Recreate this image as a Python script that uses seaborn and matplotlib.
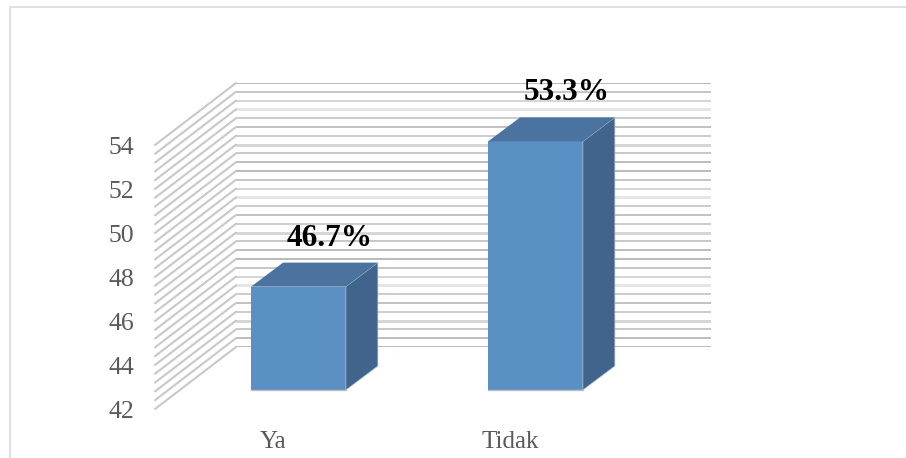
import numpy as np
import pandas as pd
import matplotlib
matplotlib.use('Agg')
import matplotlib.pyplot as plt
import seaborn as sns
from matplotlib.lines import Line2D
from matplotlib.patches import Polygon
from matplotlib.transforms import IdentityTransform

# Data
categories = ['Ya', 'Tidak']
values = [46.7, 53.3]
value_labels = ['46.7%', '53.3%']
y_ticks = [42, 44, 46, 48, 50, 52, 54]
grid_values = np.arange(42, 54.2, 0.4)

W, H = 906, 458
sns.set_theme(style='white')
plt.rcParams['font.family'] = ['Liberation Serif', 'DejaVu Serif']


def add_axes_px(left, top, right, bottom):
    # pixel box, y measured from the top of the image
    ax = fig.add_axes([left / W, 1 - bottom / H, (right - left) / W, (bottom - top) / H])
    ax.set_xlim(-0.5, 1.5)
    ax.set_ylim(42, 54)
    ax.patch.set_alpha(0)
    sns.despine(ax=ax, left=True, bottom=True)
    return ax


fig = plt.figure(figsize=(W / 100, H / 100), dpi=100, facecolor='white')

# Back wall, front plane (ticks) and the plane the bars stand on
ax_back = add_axes_px(236, 83, 711, 347)
ax = add_axes_px(155, 145, 629, 409)
ax_bar = add_axes_px(180, 126, 654, 390)
ax_back.set_xticks([])
ax_back.set_yticks([])

# Moire of the original gridlines: colour and width repeat unevenly
line_greys = ['#b4b4b4', '#c0c0c0', '#d2d2d2', '#e4e4e4', '#c8c8c8', '#bcbcbc', '#c8c8c8',
              '#d4d4d4', '#c4c4c4', '#b8b8b8']
for i, v in enumerate(grid_values[::-1]):
    grey = line_greys[i % len(line_greys)]
    lw = 2.0 if grey in ('#e4e4e4', '#d4d4d4') else 1.3
    ax_back.axhline(v, color=grey, lw=lw, zorder=1)
    p0 = ax.transData.transform((-0.5, v))
    p1 = ax_back.transData.transform((-0.5, v))
    fig.add_artist(Line2D([p0[0], p1[0]], [p0[1], p1[1]], transform=IdentityTransform(),
                          color='#c8c8c8', lw=1.5, zorder=1))

# Tick labels live on the front plane
ax.set_yticks(y_ticks)
ax.set_xticks([0, 1])
ax.set_xticklabels(categories)
ax.tick_params(axis='y', length=0, pad=15, labelsize=18.5, labelcolor='#595959')
ax.tick_params(axis='x', length=0, pad=16, labelsize=18, labelcolor='#595959')

# Bars: seaborn draws the front faces, depth faces are added from them
df = pd.DataFrame({'category': categories, 'value': values})
sns.barplot(data=df, x='category', y='value', ax=ax_bar, color='#5b90c4', saturation=1,
            width=0.4, edgecolor='none', zorder=3)
ax_bar.set_xlim(-0.5, 1.5)
ax_bar.set_ylim(42, 54)
ax_bar.set_xlabel('')
ax_bar.set_ylabel('')
ax_bar.set_xticks([])
ax_bar.set_yticks([])

dx, dy = 32, 24
for bar, label in zip(ax_bar.patches, value_labels):
    x0, x1 = bar.get_x(), bar.get_x() + bar.get_width()
    top = bar.get_height()
    bl, br = ax_bar.transData.transform([(x0, 42), (x1, 42)])
    tl, tr = ax_bar.transData.transform([(x0, top), (x1, top)])
    d = np.array([dx, dy])
    fig.add_artist(Polygon([br, tr, tr + d, br + d], closed=True, transform=IdentityTransform(),
                           facecolor='#40648c', edgecolor='#b9c6d3', lw=0.5, zorder=4))
    fig.add_artist(Polygon([tl, tr, tr + d, tl + d], closed=True, transform=IdentityTransform(),
                           facecolor='#4b73a0', edgecolor='none', zorder=4))
    # bottom edge of the front face
    fig.add_artist(Line2D([bl[0], br[0]], [bl[1], br[1]], transform=IdentityTransform(),
                          color='#b9c0c8', lw=1, zorder=5))
    mid = (x0 + x1) / 2
    ax_bar.annotate(label, (mid, top), xytext=(31, 34), textcoords='offset pixels',
                    ha='center', va='bottom', fontsize=22.5, fontweight='bold', color='black',
                    annotation_clip=False, zorder=6)

# Outer chart frame (top and left only, both run off the image)
frame = Line2D([10 / W, 10 / W, 1], [0, 1 - 7 / H, 1 - 7 / H],
               transform=fig.transFigure, color='#e0e0e0', lw=1.4)
fig.add_artist(frame)

fig.savefig('out.png', dpi=100)
